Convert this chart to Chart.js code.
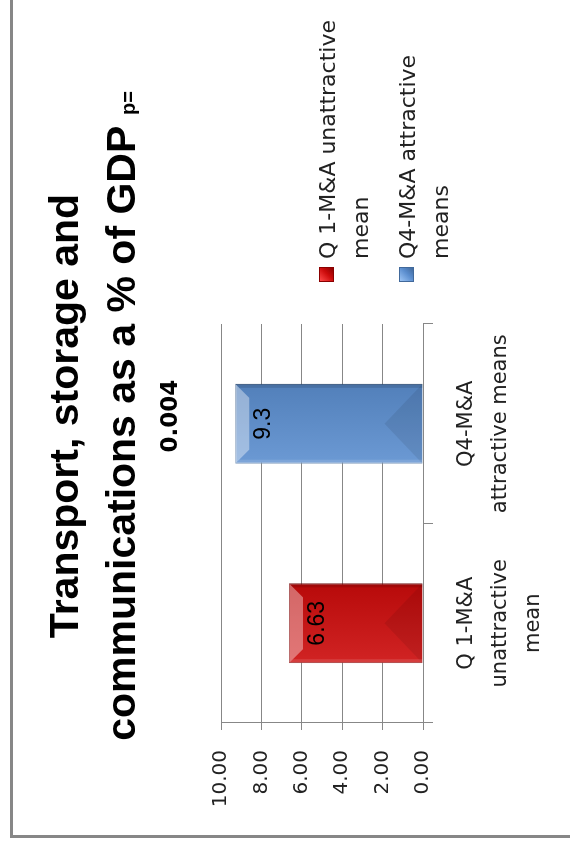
<!DOCTYPE html>
<html lang="en">
<head>
    <meta charset="UTF-8">
    <title>Transport, storage and communications as a % of GDP</title>
    <script src="https://cdn.jsdelivr.net/npm/chart.js"></script>
    <style>
        html, body {
            margin: 0;
            padding: 0;
            width: 570px;
            height: 848px;
            overflow: hidden;
            background: #fff;
        }
        /* the whole chart is laid out landscape and turned a quarter to the left */
        #wrap {
            position: absolute;
            left: 0;
            top: 0;
            width: 848px;
            height: 570px;
            transform-origin: top left;
            transform: translate(0, 848px) rotate(-90deg);
        }
        #wrap canvas {
            position: absolute;
            left: 0;
            top: 0;
        }
        .title {
            position: absolute;
            left: 16px;
            width: 832px;
            text-align: center;
            color: #000;
            white-space: nowrap;
        }
        #t1, #t2 {
            font: bold 41px/41px 'Liberation Sans', Arial, sans-serif;
        }
        #t1 { top: 44px; }
        #t2 { top: 101px; }
        #t2 span { font-size: 20px; }
        #t3 {
            top: 158px;
            font: bold 23px/23px 'DejaVu Sans', sans-serif;
        }
        #legend {
            position: absolute;
            left: 566px;
            top: 311px;
        }
        .item {
            display: flex;
            align-items: flex-start;
            margin-bottom: 14px;
        }
        .swatch {
            width: 15px;
            height: 15px;
            margin-top: 8px;
            margin-right: 8px;
            box-sizing: border-box;
        }
        .label {
            width: 250px;
            font: 22px/33px 'DejaVu Sans', sans-serif;
            color: #222;
        }
    </style>
</head>
<body>
    <div id="wrap">
        <canvas id="gdpChart" width="848" height="570"></canvas>
        <div class="title" id="t1">Transport, storage and</div>
        <div class="title" id="t2">communications as a % of GDP <span>p=</span></div>
        <div class="title" id="t3">0.004</div>
        <div id="legend"></div>
    </div>

    <script>
        const categories = ['Q 1-M&A unattractive mean', 'Q4-M&A attractive means'];
        const tickLines = [['Q 1-M&A', 'unattractive', 'mean'], ['Q4-M&A', 'attractive means']];
        const means = [6.63, 9.3];
        const barColors = ['#cc0b0b', '#5b8ecf'];
        const edgeColors = ['#8a0000', '#41699b'];
        const swatchLight = ['#ff4a4a', '#9cc4f4'];
        const axisMin = 0;
        const axisMax = 10;
        const axisStep = 2;

        // legend built from the same category list
        let legend = document.getElementById('legend');
        categories.forEach(function (name, i) {
            let item = document.createElement('div');
            item.className = 'item';
            let sw = document.createElement('div');
            sw.className = 'swatch';
            sw.style.background = 'linear-gradient(135deg, ' + swatchLight[i] + ' 0%, ' + barColors[i] + ' 55%, ' + edgeColors[i] + ' 100%)';
            sw.style.border = '1px solid ' + edgeColors[i];
            let txt = document.createElement('div');
            txt.className = 'label';
            txt.textContent = name;
            item.appendChild(sw);
            item.appendChild(txt);
            legend.appendChild(item);
        });

        function poly(ctx, pts) {
            ctx.beginPath();
            ctx.moveTo(pts[0][0], pts[0][1]);
            for (let k = 1; k < pts.length; k++) ctx.lineTo(pts[k][0], pts[k][1]);
            ctx.closePath();
            ctx.fill();
        }

        // bevelled look of the bars, drawn on top of the library's bar rectangles
        const bevel = {
            id: 'bevel',
            afterDatasetsDraw(chart) {
                let ctx = chart.ctx;
                chart.getDatasetMeta(0).data.forEach(function (bar) {
                    let p = bar.getProps(['x', 'y', 'base', 'width'], true);
                    let l = p.x - p.width / 2, r = p.x + p.width / 2, t = p.y, b = p.base;
                    ctx.save();
                    let g = ctx.createLinearGradient(l, 0, r, 0);
                    g.addColorStop(0, 'rgba(255,255,255,0.10)');
                    g.addColorStop(1, 'rgba(0,0,0,0.10)');
                    ctx.fillStyle = g;
                    ctx.fillRect(l, t, r - l, b - t);
                    ctx.fillStyle = 'rgba(255,255,255,0.38)';
                    poly(ctx, [[l, t], [r, t], [r - 14, t + 14], [l + 14, t + 14]]);
                    ctx.fillStyle = 'rgba(0,0,0,0.08)';
                    poly(ctx, [[l, b], [r, b], [p.x, b - 38]]);
                    ctx.fillStyle = 'rgba(0,0,0,0.12)';
                    poly(ctx, [[r, t], [r, b], [r - 4, b], [r - 4, t + 4]]);
                    ctx.fillStyle = 'rgba(255,255,255,0.12)';
                    poly(ctx, [[l, t], [l + 4, t + 4], [l + 4, b], [l, b]]);
                    ctx.restore();
                });
            }
        };

        const valueLabels = {
            id: 'valueLabels',
            afterDatasetsDraw(chart) {
                let ctx = chart.ctx;
                ctx.save();
                ctx.font = '23px "Liberation Sans", Arial, sans-serif';
                ctx.fillStyle = '#000';
                ctx.textAlign = 'center';
                ctx.textBaseline = 'middle';
                chart.getDatasetMeta(0).data.forEach(function (bar, i) {
                    ctx.fillText(String(means[i]), bar.x, bar.y + 29);
                });
                ctx.restore();
            }
        };

        const frame = {
            id: 'frame',
            afterDraw(chart) {
                let ctx = chart.ctx;
                ctx.save();
                ctx.strokeStyle = '#878787';
                ctx.lineWidth = 3;
                ctx.strokeRect(11.5, 11.5, 900, 700);
                ctx.restore();
            }
        };

        let ctx = document.getElementById('gdpChart').getContext('2d');
        let chart = new Chart(ctx, {
            type: 'bar',
            data: {
                labels: categories,
                datasets: [{
                    label: 'Transport, storage and communications as a % of GDP',
                    data: means,
                    backgroundColor: barColors,
                    borderColor: edgeColors,
                    borderWidth: 1,
                    barPercentage: 0.4,
                    categoryPercentage: 1.0
                }]
            },
            options: {
                responsive: false,
                animation: false,
                events: [],
                layout: {
                    padding: { left: 0, top: 221, right: 324, bottom: 27 }
                },
                plugins: {
                    legend: { display: false },
                    title: { display: false },
                    tooltip: { enabled: false }
                },
                scales: {
                    x: {
                        offset: true,
                        grid: {
                            offset: true,
                            drawOnChartArea: false,
                            tickLength: 10,
                            color: '#878787'
                        },
                        border: { color: '#878787' },
                        ticks: {
                            autoSkip: false,
                            maxRotation: 0,
                            padding: 17,
                            color: '#222',
                            font: { family: 'DejaVu Sans', size: 21, lineHeight: 1.6 },
                            callback: function (value, index) {
                                return tickLines[index];
                            }
                        },
                        afterFit: function (scale) { scale.height = 120; }
                    },
                    y: {
                        min: axisMin,
                        max: axisMax,
                        grid: { color: '#878787', tickLength: 7 },
                        border: { color: '#878787' },
                        ticks: {
                            stepSize: axisStep,
                            padding: 20,
                            color: '#222',
                            font: { family: 'DejaVu Sans', size: 20 },
                            callback: function (value) {
                                return value.toFixed(2);
                            }
                        },
                        afterFit: function (scale) { scale.width = 125; }
                    }
                }
            },
            plugins: [bevel, valueLabels, frame]
        });
    </script>
</body>
</html>
